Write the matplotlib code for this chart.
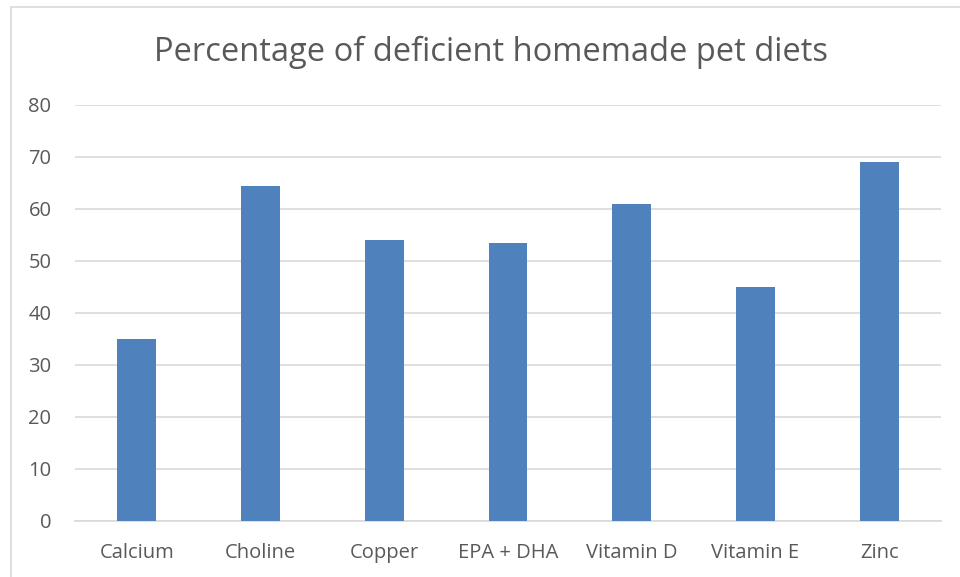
import matplotlib.pyplot as plt
from matplotlib.patches import Rectangle
import numpy as np

categories = ['Calcium', 'Choline', 'Copper', 'EPA + DHA', 'Vitamin D', 'Vitamin E', 'Zinc']
values = [35, 64.5, 54, 53.5, 61, 45, 69]
yticks = [0, 10, 20, 30, 40, 50, 60, 70, 80]

plt.rcParams['font.family'] = ['Open Sans', 'DejaVu Sans']
text_color = '#595959'
grid_color = '#D9D9D9'

fig = plt.figure(figsize=(9.6, 5.77), dpi=100)
ax = fig.add_axes([75 / 960, 1 - 521 / 577, (941 - 75) / 960, (521 - 105) / 577])

# chart border like the Excel chart area
fig.patches.append(Rectangle((11 / 960, -0.1), 1.2, 1 - 7 / 577 + 0.1,
                             transform=fig.transFigure, fill=False,
                             edgecolor=grid_color, linewidth=1.2))

x = np.arange(len(categories))
ax.bar(x, values, width=0.315, color='#4F81BD', zorder=3)

ax.set_xlim(-0.5, len(categories) - 0.5)
ax.set_ylim(0, 80)
ax.set_yticks(yticks)
ax.set_xticks(x)
ax.set_xticklabels(categories)
ax.yaxis.grid(True, color=grid_color, linewidth=1.2, zorder=0)
for s in ['top', 'right', 'left']:
    ax.spines[s].set_visible(False)
ax.spines['bottom'].set_color(grid_color)
ax.spines['bottom'].set_linewidth(1.2)
ax.tick_params(axis='both', length=0, labelsize=14.5, colors=text_color)
ax.tick_params(axis='x', pad=16)
ax.tick_params(axis='y', pad=17)

fig.text(491 / 960, 1 - 52 / 577, 'Percentage of deficient homemade pet diets',
         ha='center', va='center', fontsize=23.5, color=text_color)

plt.savefig('out.png', dpi=100)
